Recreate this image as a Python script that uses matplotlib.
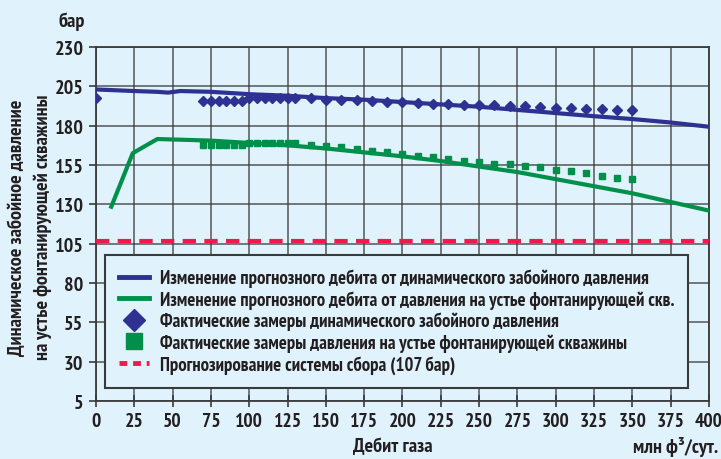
import numpy as np
import matplotlib
matplotlib.use("Agg")
import matplotlib.pyplot as plt
from matplotlib.lines import Line2D

plt.rcParams['font.family'] = ['PT Sans Narrow', 'DejaVu Sans']
plt.rcParams['font.weight'] = 'bold'

# forecast curves
blue_x = [0, 25, 40, 47, 55, 75, 100, 125, 150, 175, 200, 225, 250, 275, 300, 325, 350, 375, 400]
blue_y = [203, 202, 201.5, 201, 202, 201.5, 200, 199, 197.5, 196.5, 195, 193.5, 192, 190, 188, 186, 184.2, 182, 179.3]
green_x = [10, 24, 40, 75, 100, 125, 150, 175, 200, 225, 250, 275, 300, 325, 350, 375, 400]
green_y = [128.5, 162.5, 171.5, 170.5, 169, 167.5, 165.5, 163, 160.5, 157.5, 154, 150.5, 146, 141.5, 137, 131.5, 126]

# measurements
meas_x = [70, 75, 80, 85, 90, 95, 100, 105, 110, 115, 120, 125, 130,
          140, 150, 160, 170, 180, 190, 200, 210, 220, 230, 240, 250, 260,
          270, 280, 290, 300, 310, 320, 330, 340, 350]
diam_x = [0] + meas_x
diam_y = [197.4, 195.8, 195.8, 195.8, 195.8, 195.8, 195.8, 197.5, 197.5, 197.5, 197.5, 197.5, 197.5, 197.5,
          197.4, 196.5, 196.1, 196.1, 195.5, 195.2, 194.8, 194.4, 194.0, 194.0, 193.3, 193.3, 192.9,
          192.7, 192.5, 192.0, 191.4, 191.2, 190.8, 190.3, 190.1, 189.9]
sq_y = [167.8, 167.8, 167.8, 167.8, 167.8, 167.8, 168.7, 168.7, 168.7, 168.7, 168.7, 168.7, 168.7,
        167.7, 167.2, 166.5, 165.1, 163.7, 163.2, 162.2, 160.9, 159.9, 158.8, 157.8, 156.7, 155.8,
        155.6, 154.5, 153.5, 151.9, 151.1, 149.6, 148.1, 146.8, 146.1]
limit = 107

labels = ["Изменение прогнозного дебита от динамического забойного давления",
          "Изменение прогнозного дебита от давления на устье фонтанирующей скв.",
          "Фактические замеры динамического забойного давления",
          "Фактические замеры давления на устье фонтанирующей скважины",
          "Прогнозирование системы сбора (107 бар)"]

bg = "#E0F2FC"
blue = "#2E3192"
green = "#00904A"
red = "#EE1A4E"
txt = "#231F20"

fig = plt.figure(figsize=(7.21, 4.60), dpi=100, facecolor=bg)
ax = fig.add_axes([0.1331, 0.1261, 0.8503, 0.7696], facecolor=bg)

ax.plot(blue_x, blue_y, color=blue, lw=3, zorder=3)
ax.plot(green_x, green_y, color=green, lw=3, zorder=3)
ax.plot(diam_x, diam_y, ls="none", marker="D", ms=4.8, color=blue, zorder=4)
ax.plot(meas_x, sq_y, ls="none", marker="s", ms=4.8, color=green, zorder=4)
ax.axhline(limit, color=red, lw=3, ls=(0, (3.2, 2)), zorder=3)

ax.set_xlim(0, 400)
ax.set_ylim(5, 230)
ax.set_xticks(np.arange(0, 401, 25))
ax.set_yticks(np.arange(5, 231, 25))
ax.grid(True, color="#3a3a3a", lw=1.1, alpha=0.85)
ax.set_axisbelow(True)
for s in ax.spines.values():
    s.set_color("#3a3a3a")
    s.set_linewidth(1.3)
ax.tick_params(axis="x", direction="inout", length=8, width=1.2, color="#3a3a3a",
               labelsize=14, labelcolor=txt, pad=4)
ax.tick_params(axis="y", direction="out", length=5, width=1.2, color="#3a3a3a",
               labelsize=14.5, labelcolor=txt, pad=4)

fig.text(0.10, 0.952, "бар", fontsize=14.5, color=txt, ha="center", va="center")
fig.text(0.545, 0.028, "Дебит газа", fontsize=14.5, color=txt, ha="center", va="center")
fig.text(0.996, 0.028, "млн ф³/сут.", fontsize=14.5, color=txt, ha="right", va="center")
fig.text(0.024, 0.505, "Динамическое забойное давление", fontsize=14.5, color=txt,
         rotation=90, ha="center", va="center")
fig.text(0.059, 0.505, "на устье фонтанирующей скважины", fontsize=14.5, color=txt,
         rotation=90, ha="center", va="center")

handles = [Line2D([], [], color=blue, lw=3.5),
           Line2D([], [], color=green, lw=3.5),
           Line2D([], [], ls="none", marker="D", ms=11, color=blue),
           Line2D([], [], ls="none", marker="s", ms=11, color=green),
           Line2D([], [], color=red, lw=3.5, ls=(0, (1.6, 1.2)))]
leg = ax.legend(handles, labels, loc="lower left", bbox_to_anchor=(0.015, 0.037),
                fontsize=13.5, frameon=True, fancybox=False, borderpad=0.75,
                labelspacing=0.16, handlelength=1.6, handletextpad=0.55, borderaxespad=0)
leg.get_frame().set_facecolor(bg)
leg.get_frame().set_edgecolor("#3a3a3a")
leg.get_frame().set_linewidth(1.5)
leg.get_frame().set_alpha(1)
for t in leg.get_texts():
    t.set_color(txt)
leg.set_zorder(10)

fig.savefig("out.png", dpi=100, facecolor=bg)
